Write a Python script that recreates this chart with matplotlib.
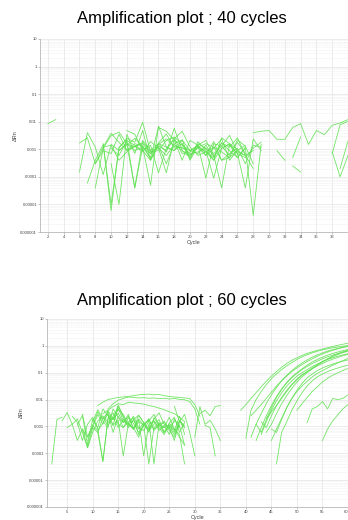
import matplotlib.pyplot as plt
import numpy as np
from matplotlib.ticker import FixedLocator, FuncFormatter, LogLocator, NullFormatter

plt.rcParams["font.family"] = ["Liberation Sans", "DejaVu Sans"]

LINE_COLOR = "#62e254"

# 40-cycle run: (first cycle, delta Rn values)
run40 = [
    (2, [0.0085, 0.012]),
    (6, [0.0017, 0.0026, 0.0003, 0.0012, 0.0014, 0.0004, 0.0008, 0.0013, 0.0016, 0.0007, 0.0011, 0.0006,
         0.0015, 0.0009, 0.0006, 0.0012, 0.0008, 0.0004, 0.0011, 0.0016, 0.0007, 0.0005, 0.0011, 0.0018]),
    (6, [0.00015, 0.004, 0.0012, 0.00012, 0.0015, 0.0009, 0.0015, 0.00004, 0.0021, 0.0009, 0.0016, 0.0012,
         0.0009, 0.0022, 0.0004, 0.0013, 0.0008, 0.0005, 0.0017, 0.0012, 0.0026, 0.0006, 0.0009]),
    (7, [0.00006, 0.0004, 0.0015, 0.000006, 0.0011, 0.0025, 0.0018, 0.0095, 0.0008, 0.0013, 0.0003, 0.0016,
         0.0022, 0.0009, 0.0012, 0.0006, 0.0019, 0.0004, 0.0007, 0.0011, 0.0003, 0.0014, 0.0012]),
    (8, [0.00004, 0.0011, 0.0031, 0.0042, 0.0016, 0.0009, 0.0012, 0.00005, 0.007, 0.0012, 0.0009, 0.0016,
         0.00045, 0.0019, 0.0009, 0.00009, 0.0011, 0.0015, 0.0005, 0.0011, 0.000004, 0.0015]),
    (8, [0.0003, 0.0009, 0.0007, 0.0035, 0.0009, 0.0013, 0.0008, 0.0019, 0.0011, 0.00014, 0.0024, 0.0045,
         0.0012, 0.0006, 0.0008, 0.0012, 0.0004, 0.0005, 0.0022, 0.0013, 0.0003]),
    (9, [0.0016, 0.00001, 0.0012, 0.0022, 0.00004, 0.0012, 0.0007, 0.0013, 0.0009, 0.0026, 0.0007, 0.0008,
         0.0014, 0.0021, 0.0006, 0.00004, 0.0015, 0.0007, 0.00004, 0.0024, 0.0009]),
    (9, [0.0012, 0.0038, 0.0018, 0.0009, 0.0016, 0.0013, 0.0005, 0.0062, 0.0045, 0.0021, 0.0014, 0.0009,
         0.0007, 0.0014, 0.00055, 0.0017, 0.0009, 0.0005, 0.0012]),
    (10, [0.0003, 0.00001, 0.0035, 0.0007, 0.0048, 0.0004, 0.0016, 0.0008, 0.0058, 0.0009, 0.0005, 0.0016,
          0.0011, 0.0007, 0.0013, 0.0006, 0.0018, 0.0007]),
    (10, [0.0011, 0.0006, 0.0021, 0.0014, 0.0009, 0.0014, 0.00014, 0.0011, 0.0022, 0.0004, 0.0021, 0.0014,
          0.00009, 0.0016, 0.0013, 0.0032, 0.0008, 0.0006, 0.0002]),
    (11, [0.0009, 0.0016, 0.0012, 0.0018, 0.0008, 0.0009, 0.0021, 0.0028, 0.0016, 0.0006, 0.0012, 0.0016,
          0.0012, 0.0008, 0.0005, 0.0009, 0.0006]),
    (12, [0.0048, 0.0035, 0.0009, 0.0004, 0.0015, 0.0024, 0.0013, 0.0011, 0.0009, 0.0014, 0.0006, 0.0011,
          0.0024, 0.0004, 0.0009, 0.0014]),
    (12, [0.0014, 0.0025, 0.0013, 0.00045, 0.0017, 0.0036, 0.0011, 0.0012, 0.0007, 0.0008, 0.0011, 0.0004,
          0.0026, 0.0016, 0.0010]),
    (28, [0.004, 0.0045, 0.0048, 0.0023, 0.0023, 0.0062, 0.0085, 0.0015, 0.0048, 0.0034, 0.0074, 0.009, 0.012]),
    (31, [0.0009, 0.0004]),
    (33, [0.0005, 0.0028]),
    (33, [0.00025, 0.00015]),
    (38, [0.0008, 0.0001, 0.0006]),
    (38, [0.0007, 0.0078, 0.0103]),
    (39, [0.0002, 0.002]),
]

# 60-cycle run
run60 = [
    (2, [0.00004, 0.0018, 0.0022]),
    (4, [0.0016, 0.0033, 0.0012, 0.0019, 0.0006, 0.00016, 0.0009, 0.0028, 0.0012, 0.004, 0.0018, 0.0031,
         0.0014, 0.0024, 0.0008, 0.0015, 0.0011, 0.0019, 0.0007, 0.0012, 0.0009, 0.0011, 0.0006, 0.0016, 0.0009]),
    (5, [0.0009, 0.0012, 0.0003, 0.0008, 0.0004, 0.0011, 0.0035, 0.0016, 0.0009, 0.0045, 0.0022, 0.0014,
         0.0028, 0.0008, 0.0018, 0.00008, 0.0012, 0.0016, 0.0007, 0.0011, 0.0005, 0.0019, 0.0009]),
    (6, [0.0024, 0.0014, 0.0003, 0.0012, 0.0022, 0.0008, 0.00005, 0.0018, 0.0032, 0.0012, 0.0009, 0.0021,
         0.0013, 0.0006, 0.0011, 0.0017, 0.00004, 0.0013, 0.0009, 0.0022, 0.0008, 0.0005, 0.00004]),
    (7, [0.0011, 0.0026, 0.0002, 0.0019, 0.0009, 0.0045, 0.0025, 0.0011, 0.0017, 0.00008, 0.0013, 0.0024,
         0.0009, 0.0007, 0.0016, 0.0028, 0.0011, 0.0006, 0.0013, 0.0008, 0.0004, 0.0002]),
    (8, [0.0008, 0.00016, 0.0006, 0.0016, 0.0025, 0.0014, 0.0022, 0.0009, 0.0018, 0.0013, 0.0008, 0.0019,
         0.0011, 0.00004, 0.0009, 0.0014, 0.0006, 0.0011, 0.0007, 0.0024, 0.0005]),
    (8, [0.0028, 0.0004, 0.0011, 0.0007, 0.0013, 0.0031, 0.0006, 0.0024, 0.0009, 0.0015, 0.0021, 0.0005,
         0.0012, 0.0007, 0.0016, 0.0009, 0.0005, 0.0013, 0.0022, 0.0006, 0.0014]),
    (9, [0.0003, 0.0009, 0.0006, 0.00005, 0.0021, 0.0018, 0.0042, 0.0028, 0.0012, 0.0008, 0.0026, 0.0014,
         0.0007, 0.0012, 0.0018, 0.0006, 0.0009, 0.0003, 0.0016, 0.0011]),
    (10, [0.0015, 0.0042, 0.0019, 0.0035, 0.0011, 0.0058, 0.0022, 0.0009, 0.0017, 0.0008, 0.0013, 0.0006,
          0.0021, 0.0011, 0.0014, 0.0009, 0.0016, 0.0012]),
    (11, [0.0006, 0.0022, 0.0011, 0.0024, 0.0048, 0.0016, 0.0011, 0.0009, 0.0004, 0.0012, 0.0019, 0.0008,
          0.0011, 0.0016, 0.0007, 0.0004, 0.0016, 0.0009]),
    (13, [0.0025, 0.0018, 0.0062, 0.0024, 0.0012, 0.0018, 0.0026, 0.0014, 0.0008, 0.0019, 0.0032, 0.0012,
          0.0009, 0.0005, 0.0011, 0.0002]),
    (11, [0.006, 0.008, 0.01, 0.011, 0.012, 0.0125, 0.013, 0.014, 0.015, 0.0155, 0.016, 0.015, 0.0155, 0.014,
          0.013, 0.0125, 0.012, 0.0115, 0.011, 0.0065, 0.0024]),
    (13, [0.0045, 0.007, 0.0095, 0.011, 0.0125, 0.012, 0.0115, 0.0118, 0.0112, 0.0115, 0.0108, 0.0112, 0.0105,
          0.011, 0.0102, 0.0098, 0.0085, 0.0045, 0.0012]),
    (12, [0.003, 0.004, 0.0055, 0.007, 0.0065, 0.008, 0.0075, 0.0072, 0.0068, 0.006, 0.0055, 0.0048, 0.0042,
          0.0035, 0.003, 0.0022, 0.0015]),
    (26, [0.0056, 0.0015, 0.0028, 0.0006, 0.00008]),
    (30, [0.0004, 0.0055, 0.0012, 0.0017, 0.0008, 0.0003]),
    (31, [0.003, 0.004, 0.0025, 0.0055, 0.006]),
    (32, [0.0011, 0.0009, 0.00008]),
    (39, [0.004, 0.0065, 0.011, 0.018, 0.03, 0.048, 0.075, 0.11, 0.16, 0.22, 0.29, 0.36, 0.44, 0.52, 0.6,
          0.68, 0.76, 0.85, 0.95, 1.05, 1.15, 1.25]),
    (40, [0.00036, 0.004, 0.01, 0.02, 0.036, 0.06, 0.09, 0.13, 0.18, 0.24, 0.31, 0.39, 0.47, 0.55, 0.63,
          0.71, 0.78, 0.85, 0.91, 0.97, 1.02]),
    (41, [0.0004, 0.0012, 0.003, 0.007, 0.015, 0.028, 0.05, 0.08, 0.12, 0.17, 0.23, 0.3, 0.38, 0.46, 0.55,
          0.64, 0.72, 0.8, 0.88, 0.95]),
    (41, [0.0025, 0.004, 0.0065, 0.011, 0.019, 0.032, 0.05, 0.075, 0.11, 0.15, 0.2, 0.26, 0.33, 0.41, 0.5,
          0.59, 0.68, 0.78, 0.88, 1.0]),
    (42, [0.0003, 0.0009, 0.0025, 0.006, 0.013, 0.025, 0.043, 0.07, 0.1, 0.14, 0.19, 0.25, 0.31, 0.38, 0.45,
          0.52, 0.59, 0.66, 0.73]),
    (42, [0.0012, 0.0006, 0.0018, 0.005, 0.012, 0.024, 0.042, 0.065, 0.095, 0.13, 0.17, 0.22, 0.27, 0.33,
          0.39, 0.45, 0.52, 0.58, 0.65]),
    (43, [0.0005, 0.0015, 0.004, 0.009, 0.018, 0.032, 0.05, 0.075, 0.1, 0.13, 0.17, 0.21, 0.26, 0.31, 0.36,
          0.41, 0.46, 0.51]),
    (43, [0.0015, 0.0009, 0.0025, 0.006, 0.012, 0.022, 0.037, 0.058, 0.085, 0.11, 0.14, 0.18, 0.22, 0.27,
          0.32, 0.37, 0.43, 0.48]),
    (44, [0.0006, 0.0012, 0.003, 0.007, 0.014, 0.026, 0.045, 0.07, 0.1, 0.14, 0.19, 0.25, 0.32, 0.4, 0.48,
          0.56, 0.64]),
    (44, [0.002, 0.0035, 0.006, 0.011, 0.02, 0.035, 0.055, 0.08, 0.11, 0.15, 0.2, 0.26, 0.33, 0.41, 0.5,
          0.6, 0.7]),
    (45, [0.0003, 0.0008, 0.002, 0.005, 0.011, 0.022, 0.04, 0.065, 0.09, 0.12, 0.15, 0.18, 0.21, 0.24, 0.27,
          0.3]),
    (45, [0.0008, 0.0006, 0.0018, 0.005, 0.011, 0.02, 0.032, 0.048, 0.07, 0.095, 0.12, 0.15, 0.19, 0.23,
          0.28, 0.34]),
    (46, [0.00004, 0.0006, 0.0015, 0.004, 0.009, 0.018, 0.032, 0.05, 0.07, 0.09, 0.11, 0.13, 0.15, 0.17,
          0.19]),
    (50, [0.004, 0.007, 0.012, 0.02, 0.03, 0.045, 0.062, 0.08, 0.1, 0.12, 0.145]),
    (52, [0.0014, 0.0045, 0.0055, 0.0085, 0.0045, 0.011, 0.01, 0.011, 0.015]),
    (55, [0.0003, 0.0008, 0.0016, 0.0027, 0.0045, 0.0065]),
]

y_ticks = [1e-6, 1e-5, 1e-4, 1e-3, 1e-2, 1e-1, 1, 10]
y_tick_labels = ["0.000001", "0.00001", "0.0001", "0.001", "0.01", "0.1", "1", "10"]


def draw_panel(ax, runs, xmax, xticks):
    for start, vals in runs:
        cycles = np.arange(start, start + len(vals))
        ax.plot(cycles, vals, color=LINE_COLOR, lw=0.6, alpha=0.9)
    ax.set_yscale("log")
    ax.set_ylim(1e-6, 10)
    ax.set_xlim(1, xmax)
    ax.yaxis.set_major_locator(FixedLocator(y_ticks))
    ax.yaxis.set_major_formatter(FuncFormatter(lambda v, p: y_tick_labels[y_ticks.index(v)] if v in y_ticks else ""))
    ax.yaxis.set_minor_locator(LogLocator(base=10, subs=np.arange(2, 10)))
    ax.yaxis.set_minor_formatter(NullFormatter())
    ax.set_xticks(xticks)
    ax.grid(True, which="major", color="#e3e3e3", lw=0.5)
    ax.grid(True, which="minor", axis="y", color="#ececec", lw=0.4, ls=(0, (2, 1)))
    ax.tick_params(labelsize=3.0, length=1.2, width=0.4, color="#999999", labelcolor="#444444", pad=0.8)
    ax.tick_params(which="minor", length=0)
    for side in ["top", "right"]:
        ax.spines[side].set_visible(False)
    for side in ["left", "bottom"]:
        ax.spines[side].set_color("#aaaaaa")
        ax.spines[side].set_linewidth(0.5)
    ax.set_xlabel("Cycle", fontsize=4.0, color="#444444", labelpad=0.8)
    ax.set_ylabel("ΔRn", fontsize=4.0, color="#444444", labelpad=2)


fig = plt.figure(figsize=(3.48, 5.20), dpi=100)

ax1 = fig.add_axes([40 / 348, (520 - 232) / 520, 308 / 348, 193 / 520])
draw_panel(ax1, run40, 40, np.arange(2, 40, 2))

ax2 = fig.add_axes([46.7 / 348, (520 - 507) / 520, 301.3 / 348, 188 / 520])
draw_panel(ax2, run60, 60, np.arange(5, 61, 5))
# last tick label sits on the figure edge
ax2.get_xticklabels()[-1].set_horizontalalignment("right")

fig.text(182 / 348, 1 - 18 / 520, "Amplification plot ; 40 cycles", ha="center", va="center", fontsize=12)
fig.text(182 / 348, 1 - 301 / 520, "Amplification plot ; 60 cycles", ha="center", va="center", fontsize=12)

fig.savefig("out.png", dpi=100)
